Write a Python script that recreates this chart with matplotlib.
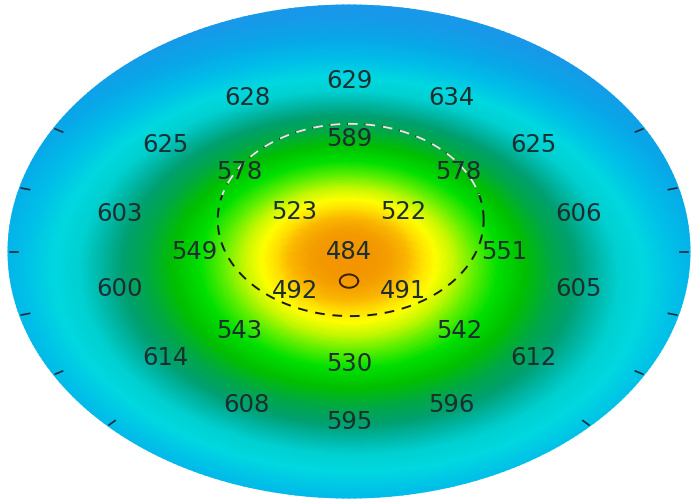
import numpy as np
import matplotlib
matplotlib.use('Agg')
import matplotlib.pyplot as plt
from matplotlib.colors import LinearSegmentedColormap

# corneal thickness readings (um)
center_val = 484
ring1_angles = [135, 225, 315, 45]
ring1_vals = [523, 492, 491, 522]
ring2_angles = [90, 135, 180, 225, 270, 315, 0, 45]
ring2_vals = [589, 578, 549, 543, 530, 542, 551, 578]
ring3_angles = [90 + k * 360 / 14 for k in range(14)]
ring3_vals = [629, 628, 625, 603, 600, 614, 608, 595, 596, 612, 605, 606, 625, 634]
ring_radii = [0.226, 0.455, 0.69]

# thinnest point and the dashed zone
thin_pt = (0.0, -0.12)
zone_center = (0.005, 0.128)
zone_radius = 0.39

# colour scale for thickness
cmap_vals = [470, 488, 497, 504, 512, 522, 535, 550, 567, 585, 600, 615, 628, 645, 665, 690, 720]
cmap_cols = ['#f08800', '#f49c00', '#fbb800', '#ffe000', '#ffff00', '#c8f800', '#60f000',
             '#00e000', '#00c000', '#00a848', '#00a070', '#00b8a8', '#00d0d0', '#00d8e0',
             '#00c0e8', '#08a8e8', '#1898e8']

# collect points
us, vs, ts = [0.0], [0.0], [center_val]
for rad, angs, vals in zip(ring_radii, [ring1_angles, ring2_angles, ring3_angles],
                           [ring1_vals, ring2_vals, ring3_vals]):
    for a, t in zip(angs, vals):
        us.append(rad * np.cos(np.radians(a)))
        vs.append(rad * np.sin(np.radians(a)))
        ts.append(t)
us, vs, ts = np.array(us), np.array(vs), np.array(ts, dtype=float)


def basis(u, v):
    return np.stack([np.ones_like(u), u, v, u * u, u * v, v * v,
                     np.sqrt(u * u + v * v + 0.04)], axis=-1)


coef, *_ = np.linalg.lstsq(basis(us, vs), ts, rcond=None)

rr, th = np.meshgrid(np.linspace(0, 1, 160), np.linspace(0, 2 * np.pi, 361))
U, V = rr * np.cos(th), rr * np.sin(th)
T = basis(U, V) @ coef

lo, hi = cmap_vals[0], cmap_vals[-1]
cmap = LinearSegmentedColormap.from_list(
    'pachy', [((v - lo) / (hi - lo), c) for v, c in zip(cmap_vals, cmap_cols)])

fig = plt.figure(figsize=(6.92, 5.0), dpi=100)
ax = fig.add_axes([0, 0, 1, 1])
ax.pcolormesh(U, V, T, cmap=cmap, vmin=lo, vmax=hi, shading='gouraud')

# tick marks on the rim
for a in list(range(-45, 31, 15)) + list(range(150, 226, 15)):
    c, s = np.cos(np.radians(a)), np.sin(np.radians(a))
    ax.plot([0.97 * c, 0.995 * c], [0.97 * s, 0.995 * s], color='#1a2a3a', lw=1.2)

# dashed zone
ang = np.linspace(0, 2 * np.pi, 400)
ax.plot(zone_center[0] + zone_radius * np.cos(ang), zone_center[1] + zone_radius * np.sin(ang),
        color='#1a1a1a', lw=1.4, linestyle=(0, (5, 4)))
arc = np.linspace(np.radians(15), np.radians(165), 200)
ax.plot(zone_center[0] + zone_radius * np.cos(arc), zone_center[1] + zone_radius * np.sin(arc),
        color='white', lw=1.4, linestyle=(4.5, (5, 4)), alpha=0.9)

# thinnest point
ax.plot(thin_pt[0] + 0.027 * np.cos(ang), thin_pt[1] + 0.027 * np.sin(ang),
        color='#3a2000', lw=1.4)

# labels
for u, v, t in zip(us, vs, ts):
    ax.text(u, v, '%d' % t, ha='center', va='center', fontsize=17.5, color='#1c2f2f')

ax.set_xlim(-1.0235, 1.0059)
ax.set_ylim(-1.008, 1.0203)
ax.axis('off')

fig.savefig('out.png', dpi=100)
